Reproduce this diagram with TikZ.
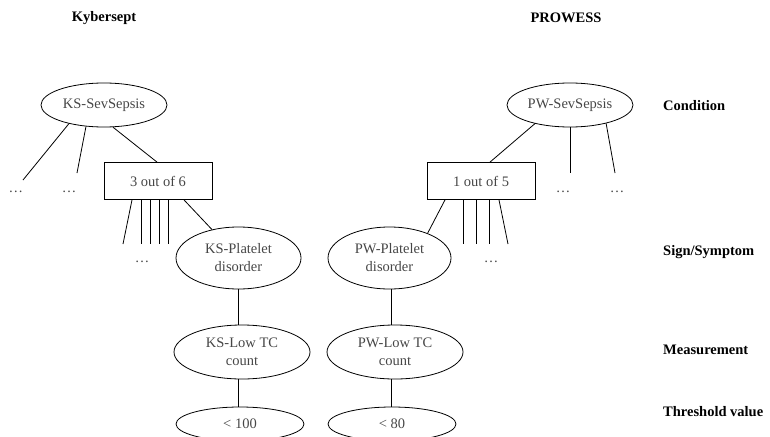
\documentclass[tikz,border=0pt]{standalone}
\usepackage{fontspec}
\setmainfont{Liberation Serif}
\usetikzlibrary{shapes.geometric}
\definecolor{txt}{RGB}{70,70,70}
\begin{document}
\begin{tikzpicture}[x=1pt,y=-1pt,
  every node/.style={font=\fontsize{14.5}{18}\selectfont},
  oval/.style={ellipse, draw=black, line width=0.8pt, inner sep=0pt, text=txt, align=center},
  gate/.style={rectangle, draw=black, line width=0.8pt, inner sep=0pt, minimum width=108pt, minimum height=37pt, text=txt},
  link/.style={draw=black, line width=0.8pt},
  dotsn/.style={text=txt, inner sep=0pt},
  head/.style={font=\fontsize{14.5}{18}\selectfont\bfseries},
  lab/.style={font=\fontsize{14.5}{18}\selectfont\bfseries, anchor=west, inner sep=0pt}]
\useasboundingbox (0,0) rectangle (770,436);
\clip (0,0) rectangle (770,436);

% headings
\node[head] (hk) at (104,18) {Kybersept};
\node[head] (hp) at (566,18) {PROWESS};

% nodes
\node[oval, minimum width=126pt, minimum height=44pt] (ks) at (104,105) {KS-SevSepsis};
\node[oval, minimum width=126pt, minimum height=44pt] (pw) at (570,105) {PW-SevSepsis};
\node[gate] (g1) at (158,181) {3 out of 6};
\node[gate] (g2) at (481,181) {1 out of 5};
\node[oval, minimum width=125pt, minimum height=62pt] (ksp) at (238.5,258) {KS-Platelet\\disorder};
\node[oval, minimum width=123pt, minimum height=62pt] (pwp) at (389.5,258) {PW-Platelet\\disorder};
\node[oval, minimum width=136pt, minimum height=54pt] (ksl) at (242,352) {KS-Low TC\\count};
\node[oval, minimum width=136pt, minimum height=54pt] (pwl) at (395,352) {PW-Low TC\\count};
\node[oval, minimum width=128pt, minimum height=34pt] (kst) at (240,424) {< 100};
\node[oval, minimum width=128pt, minimum height=34pt] (pwt) at (392,424) {< 80};

% dots
\node[dotsn] (d1) at (16,192) {\dots};
\node[dotsn] (d2) at (69,192) {\dots};
\node[dotsn] (d3) at (142,262) {\dots};
\node[dotsn] (d4) at (563,192) {\dots};
\node[dotsn] (d5) at (617,192) {\dots};
\node[dotsn] (d6) at (491,262) {\dots};

% level labels
\node[lab] (lc) at (663,106) {Condition};
\node[lab] (ls) at (663,252) {Sign/Symptom};
\node[lab] (lm) at (663,350) {Measurement};
\node[lab] (lt) at (663,412) {Threshold value};

% free ends
\coordinate (k1) at (23,180);
\coordinate (k2) at (77,173);
\coordinate (k3) at (123,244);
\coordinate (p1) at (570,173);
\coordinate (p2) at (615,173);
\coordinate (p3) at (508,244);

% Kybersept connectors
\draw[link] (ks.208) -- (k1);
\draw[link] (ks.230) -- (k2);
\draw[link] (ks.292) -- ([xshift=-1pt]g1.north);
\draw[link] ([xshift=-26pt]g1.south) -- (k3);
\foreach \d in {-17,-8,1,10}
  \draw[link] ([xshift=\d pt]g1.south) -- ([xshift=\d pt]g1.south |- k3);
\draw[link] ([xshift=26pt]g1.south) -- (ksp.133);
\draw[link] (ksp.south) -- (ksp.south |- ksl.north);
\draw[link] (ksp.south |- ksl.south) -- (ksp.south |- kst.north);

% PROWESS connectors
\draw[link] (pw.208) -- ([xshift=9pt]g2.north);
\draw[link] (pw.south) -- (p1);
\draw[link] (pw.333) -- (p2);
\draw[link] ([xshift=-36pt]g2.south) -- (pwp.33);
\foreach \d in {-18,-5,8}
  \draw[link] ([xshift=\d pt]g2.south) -- ([xshift=\d pt]g2.south |- p3);
\draw[link] ([xshift=18pt]g2.south) -- (p3);
\draw[link] ([xshift=1.5pt]pwp.south) -- ([xshift=1.5pt]pwp.south |- pwl.north);
\draw[link] ([xshift=1.5pt]pwp.south |- pwl.south) -- ([xshift=1.5pt]pwp.south |- pwt.north);
\end{tikzpicture}
\end{document}
